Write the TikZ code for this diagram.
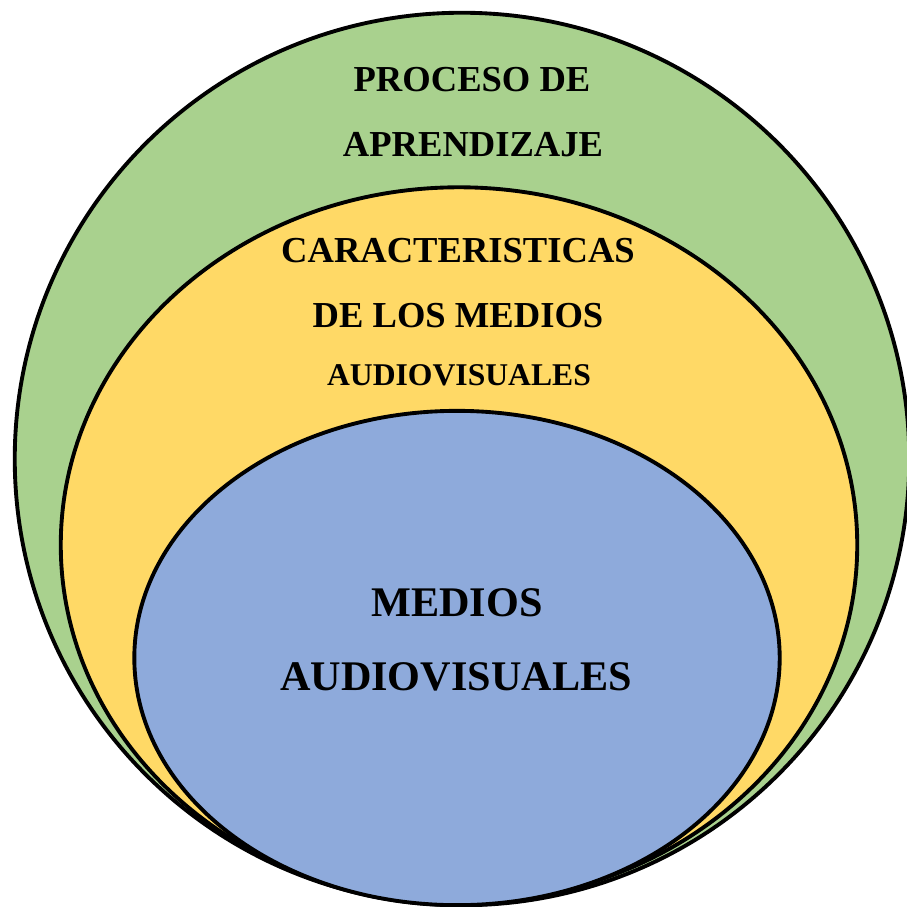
\documentclass[tikz,border=0pt]{standalone}
\usepackage{fontspec}
\setmainfont{Liberation Serif}
\usepackage{tikz}
\usetikzlibrary{shapes.geometric}
\definecolor{verde}{HTML}{A9D18E}
\definecolor{amarillo}{HTML}{FFD966}
\definecolor{azul}{HTML}{8EAADB}

\begin{document}
\begin{tikzpicture}[
   x=0.01cm,y=-0.01cm,
   capa/.style={draw,ellipse,line width=1.1pt,inner sep=0pt},
   texto/.style={font=\bfseries\fontsize{10.4}{12}\selectfont,anchor=base,inner sep=0pt},
   chico/.style={texto,font=\bfseries\fontsize{9}{11}\selectfont},
   grande/.style={texto,font=\bfseries\fontsize{12}{14}\selectfont}]
\useasboundingbox (0,0) rectangle (906,907);
% capas
\node[capa,fill=verde,minimum width=8.94cm,minimum height=8.92cm] (proceso) at (462,459) {};
\node[capa,fill=amarillo,minimum width=7.96cm,minimum height=7.15cm] (caracteristicas) at (459,545) {};
\node[capa,fill=azul,minimum width=6.45cm,minimum height=4.94cm] (medios) at (457,658) {};
% textos
\node[texto] (proceso1) at (472,92) {PROCESO DE};
\node[texto] (proceso2) at (473,157) {APRENDIZAJE};
\node[texto] (carac1) at (458,263) {CARACTERISTICAS};
\node[texto] (carac2) at (458,328) {DE LOS MEDIOS};
\node[chico] (carac3) at (459,386) {AUDIOVISUALES};
\node[grande] (medios1) at (457,616) {MEDIOS};
\node[grande] (medios2) at (456,690) {AUDIOVISUALES};
\end{tikzpicture}
\end{document}
